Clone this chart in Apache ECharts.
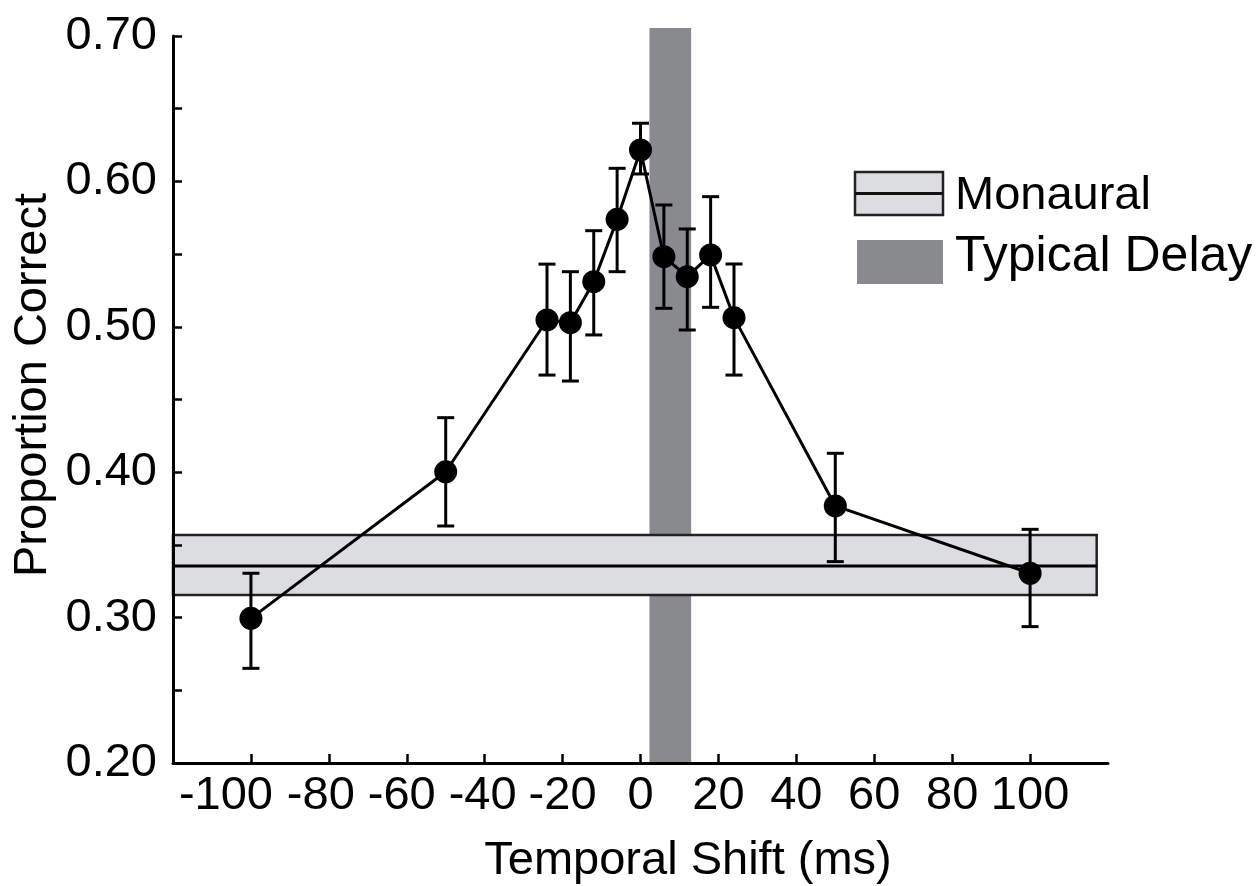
<!DOCTYPE html>
<html>
<head>
<meta charset="utf-8">
<script src="https://cdn.jsdelivr.net/npm/echarts@6/dist/echarts.min.js"></script>
<style>
html,body{margin:0;padding:0;background:#fff;}
#chart{width:1259px;height:886px;}
</style>
</head>
<body>
<div id="chart"></div>
<script>
// ---- data ----
const xShift     = [-100, -50, -24, -18, -12, -6, 0, 6, 12, 18, 24, 50, 100];
const proportion = [0.2995, 0.4003, 0.5047, 0.5028, 0.5310, 0.5739, 0.6216, 0.5482, 0.5345, 0.5494, 0.5063, 0.3768, 0.3305];
const errUpper   = [0.3305, 0.4375, 0.5431, 0.5379, 0.5661, 0.6090, 0.6400, 0.5838, 0.5673, 0.5895, 0.5432, 0.4130, 0.3607];
const errLower   = [0.2651, 0.3630, 0.4668, 0.4627, 0.4944, 0.5379, 0.6051, 0.5127, 0.4978, 0.5134, 0.4668, 0.3385, 0.2938];
const monauralX    = [-120, 117.1];
const monauralMean = 0.3355;
const monauralLow  = 0.3155;
const monauralHigh = 0.3568;
const delayX = [2.3, 13.0];
const delayY = [0.2, 0.7055];
const xTicks = [-100, -80, -60, -40, -20, 0, 20, 40, 60, 80, 100];
const yTicks = [0.20, 0.30, 0.40, 0.50, 0.60, 0.70];
const legendNames = ['Monaural', 'Typical Delay'];
const xTitle = 'Temporal Shift (ms)';
const yTitle = 'Proportion Correct';

const FONT = "'Liberation Sans', Arial, sans-serif";
const FS = 47;

const chart = echarts.init(document.getElementById('chart'), null, {renderer: 'canvas'});

const lineData = xShift.map((x, i) => [x, proportion[i]]);
const errData = xShift.map((x, i) => [x, errLower[i], errUpper[i]]);

const labelShift = {'-100': 50, '-80': 16, '-60': 10, '-40': 4};

const option = {
  animation: false,
  backgroundColor: '#fff',
  grid: {left: 173, right: 151, top: 36, bottom: 123, containLabel: false},
  xAxis: {
    type: 'value', min: -120, max: 120, interval: 20, z: 10,
    axisLine: {show: true, onZero: false, lineStyle: {color: '#000', width: 3}},
    axisTick: {show: true, inside: true, length: 9, customValues: xTicks, lineStyle: {color: '#000', width: 2.5}},
    axisLabel: {
      customValues: xTicks, margin: 10, color: '#000', fontFamily: FONT, fontSize: FS,
      formatter: v => {
        const s = String(v);
        return labelShift[s] ? '{s' + labelShift[s] + '|' + s + '}' : s;
      },
      rich: {
        s50: {fontFamily: FONT, fontSize: FS, color: '#000', padding: [0, 50, 0, 0]},
        s16: {fontFamily: FONT, fontSize: FS, color: '#000', padding: [0, 16, 0, 0]},
        s10: {fontFamily: FONT, fontSize: FS, color: '#000', padding: [0, 10, 0, 0]},
        s4: {fontFamily: FONT, fontSize: FS, color: '#000', padding: [0, 4, 0, 0]}
      }
    },
    splitLine: {show: false}
  },
  yAxis: {
    type: 'value', min: 0.2, max: 0.7, interval: 0.05, z: 10,
    axisLine: {show: true, onZero: false, lineStyle: {color: '#000', width: 3}},
    axisTick: {show: true, inside: true, length: 9, lineStyle: {color: '#000', width: 2.5}},
    axisLabel: {
      customValues: yTicks, margin: 16, color: '#000', fontFamily: FONT, fontSize: FS,
      formatter: v => v.toFixed(2)
    },
    splitLine: {show: false}
  },
  graphic: [
    {type: 'text', x: 33, y: 385, rotation: Math.PI / 2,
     style: {text: yTitle, font: FS + 'px ' + FONT, fill: '#000', align: 'center', verticalAlign: 'middle'}},
    {type: 'text', x: 688, y: 861,
     style: {text: xTitle, font: FS + 'px ' + FONT, fill: '#000', align: 'center', verticalAlign: 'middle'}},
    {type: 'rect', shape: {x: 855, y: 172, width: 88, height: 43},
     style: {fill: '#dcdde0', stroke: '#222', lineWidth: 2.5}},
    {type: 'line', shape: {x1: 855, y1: 193.5, x2: 943, y2: 193.5},
     style: {stroke: '#111', lineWidth: 3}},
    {type: 'rect', shape: {x: 857, y: 240, width: 86, height: 44},
     style: {fill: '#898a8e'}},
    {type: 'text', x: 955, y: 196,
     style: {text: legendNames[0], font: FS + 'px ' + FONT, fill: '#000', align: 'left', verticalAlign: 'middle'}},
    {type: 'text', x: 955, y: 257,
     style: {text: legendNames[1], font: '50px ' + FONT, fill: '#000', align: 'left', verticalAlign: 'middle'}}
  ],
  series: [
    {
      name: legendNames[1], type: 'custom', z: 1, clip: false,
      data: [[delayX[0], delayX[1], delayY[0], delayY[1]]],
      encode: {x: [0, 1], y: [2, 3]},
      renderItem: (params, api) => {
        const p1 = api.coord([api.value(0), api.value(3)]);
        const p2 = api.coord([api.value(1), api.value(2)]);
        return {type: 'rect', shape: {x: p1[0], y: p1[1], width: p2[0] - p1[0], height: p2[1] - p1[1]},
                style: {fill: '#898a8e'}};
      }
    },
    {
      name: legendNames[0], type: 'custom', z: 2, clip: false,
      data: [[monauralX[0], monauralX[1], monauralLow, monauralHigh, monauralMean]],
      encode: {x: [0, 1], y: [2, 3, 4]},
      renderItem: (params, api) => {
        const tl = api.coord([api.value(0), api.value(3)]);
        const br = api.coord([api.value(1), api.value(2)]);
        const m = api.coord([api.value(0), api.value(4)]);
        return {type: 'group', children: [
          {type: 'rect', shape: {x: tl[0], y: tl[1], width: br[0] - tl[0], height: br[1] - tl[1]},
           style: {fill: '#dcdde0', stroke: '#222', lineWidth: 2.5}},
          {type: 'line', shape: {x1: tl[0], y1: m[1], x2: br[0], y2: m[1]},
           style: {stroke: '#000', lineWidth: 3}}
        ]};
      }
    },
    {
      name: 'err', type: 'custom', z: 3, clip: false,
      data: errData,
      encode: {x: 0, y: [1, 2]},
      renderItem: (params, api) => {
        const x = api.value(0);
        const lo = api.coord([x, api.value(1)]);
        const hi = api.coord([x, api.value(2)]);
        const w = 8.5;
        const st = {stroke: '#000', lineWidth: 3};
        return {type: 'group', children: [
          {type: 'line', shape: {x1: lo[0], y1: lo[1], x2: hi[0], y2: hi[1]}, style: st},
          {type: 'line', shape: {x1: lo[0] - w, y1: lo[1], x2: lo[0] + w, y2: lo[1]}, style: st},
          {type: 'line', shape: {x1: hi[0] - w, y1: hi[1], x2: hi[0] + w, y2: hi[1]}, style: st}
        ]};
      }
    },
    {
      name: 'data', type: 'line', z: 4,
      data: lineData,
      symbol: 'circle', symbolSize: 23, showSymbol: true,
      lineStyle: {color: '#000', width: 3},
      itemStyle: {color: '#000', borderWidth: 0}
    }
  ]
};
chart.setOption(option);
</script>
</body>
</html>
